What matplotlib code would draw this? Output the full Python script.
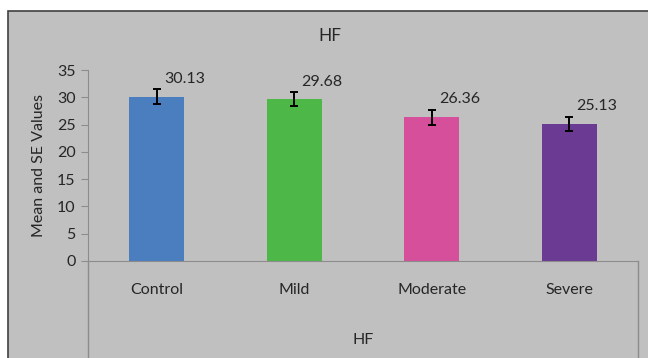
import matplotlib.pyplot as plt
from matplotlib.patches import Rectangle
from matplotlib.lines import Line2D

categories = ["Control", "Mild", "Moderate", "Severe"]
means = [30.13, 29.68, 26.36, 25.13]
se = [1.3, 1.2, 1.35, 1.3]
colors = ["#4a7ebf", "#4db848", "#d64f9b", "#6b3a93"]

plt.rcParams["font.family"] = ["Lato", "DejaVu Sans"]
txt = "#262626"
W, H = 648, 358

fig = plt.figure(figsize=(6.48, 3.58), dpi=100, facecolor="white")

# gray chart area with dark border
fig.patches.append(Rectangle((8 / W, -0.1), 1, (H - 11) / H + 0.1, transform=fig.transFigure,
                             facecolor="#c0c0c0", edgecolor="#404040", linewidth=1.2, zorder=-5))

ax = fig.add_axes([88 / W, (H - 261) / H, 550 / W, 191 / H])
ax.set_facecolor("none")
x = range(len(categories))
ax.bar(x, means, width=0.4, color=colors, zorder=2)
ax.errorbar(x, means, yerr=se, fmt="none", ecolor="black", elinewidth=1.4,
            capsize=3, capthick=1.4, zorder=3)
for i, (m, s) in enumerate(zip(means, se)):
    ax.annotate(f"{m:.2f}", (i, m + s), xytext=(20, 7.5), textcoords="offset points",
                ha="center", va="center", fontsize=11.5, color=txt)

ax.set_xlim(-0.5, 3.5)
ax.set_ylim(0, 35)
ax.set_yticks(range(0, 36, 5))
ax.set_xticks(list(x))
ax.set_xticklabels(categories, fontsize=11.5, color=txt)
ax.tick_params(axis="x", length=0, pad=16)
ax.tick_params(axis="y", length=5, color="#8c8c8c", labelsize=11.5, labelcolor=txt, pad=4)
for side in ["top", "right"]:
    ax.spines[side].set_visible(False)
for side in ["left", "bottom"]:
    ax.spines[side].set_color("#8c8c8c")
ax.set_ylabel("Mean and SE Values", fontsize=11.5, color=txt, labelpad=8)

# category axis box below the plot
for xp in [88, 638]:
    fig.lines.append(Line2D([xp / W, xp / W], [0, (H - 261) / H], transform=fig.transFigure,
                            color="#8c8c8c", linewidth=1))

fig.text(330 / W, (H - 36) / H, "HF", ha="center", va="center", fontsize=12.5, color=txt)
fig.text(363 / W, (H - 340) / H, "HF", ha="center", va="center", fontsize=11.5, color=txt)

fig.savefig("out.png", dpi=100)
